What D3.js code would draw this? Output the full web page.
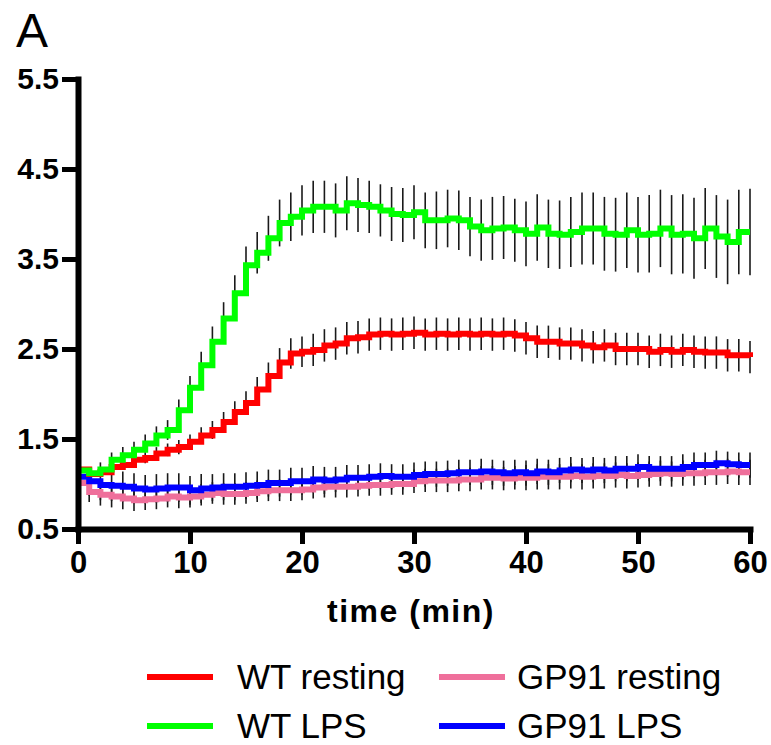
<!DOCTYPE html>
<html>
<head>
<meta charset="utf-8">
<script src="https://cdn.jsdelivr.net/npm/d3@7"></script>
<style>
  body { margin: 0; background: #fff; }
  svg { display: block; font-family: "Liberation Sans", Arial, sans-serif; }
</style>
</head>
<body>
<div id="chart"></div>
<script>
const W = 771, H = 745;

// time points (min)
const time = [0,1,2,3,4,5,6,7,8,9,10,11,12,13,14,15,16,17,18,19,20,21,22,23,24,25,26,27,28,29,30,
  31,32,33,34,35,36,37,38,39,40,41,42,43,44,45,46,47,48,49,50,51,52,53,54,55,56,57,58,59,60];

const wtResting = [1.16,1.11,1.13,1.19,1.21,1.27,1.29,1.34,1.38,1.41,1.47,1.54,1.60,1.69,1.80,1.90,
  2.05,2.20,2.35,2.45,2.47,2.49,2.54,2.56,2.62,2.63,2.66,2.67,2.66,2.67,2.68,2.66,2.67,2.66,2.67,2.66,
  2.67,2.66,2.67,2.65,2.62,2.58,2.58,2.56,2.56,2.54,2.52,2.54,2.50,2.50,2.50,2.47,2.49,2.47,2.49,2.47,
  2.46,2.46,2.43,2.43,2.41];
const wtRestingErr = [0.05,0.05,0.05,0.05,0.05,0.06,0.06,0.07,0.07,0.08,0.08,0.09,0.10,0.11,0.12,0.13,
  0.14,0.15,0.16,0.17,0.17,0.18,0.18,0.18,0.18,0.18,0.18,0.18,0.18,0.18,0.18,0.18,0.18,0.18,0.18,0.18,
  0.18,0.18,0.18,0.18,0.18,0.18,0.18,0.18,0.18,0.18,0.18,0.18,0.18,0.18,0.18,0.18,0.18,0.18,0.18,0.18,
  0.18,0.18,0.18,0.18,0.18];

const wtLPS = [1.15,1.12,1.16,1.27,1.32,1.38,1.45,1.54,1.60,1.82,2.07,2.32,2.58,2.84,3.12,3.43,
  3.57,3.73,3.90,3.97,4.04,4.08,4.08,4.04,4.12,4.10,4.08,4.04,4.00,3.99,4.02,3.93,3.93,3.95,3.93,3.86,
  3.82,3.84,3.85,3.82,3.78,3.85,3.78,3.77,3.80,3.84,3.84,3.78,3.77,3.82,3.77,3.78,3.84,3.77,3.78,3.73,
  3.84,3.75,3.69,3.80,3.80];
const wtLPSErr = [0.07,0.07,0.08,0.08,0.09,0.09,0.10,0.10,0.11,0.12,0.13,0.15,0.17,0.18,0.20,0.21,
  0.23,0.25,0.26,0.27,0.28,0.29,0.29,0.30,0.30,0.30,0.29,0.29,0.30,0.30,0.30,0.31,0.32,0.32,0.33,0.33,
  0.34,0.35,0.35,0.35,0.36,0.37,0.38,0.38,0.39,0.40,0.40,0.41,0.41,0.42,0.42,0.43,0.43,0.44,0.44,0.45,
  0.45,0.46,0.47,0.47,0.48];

const gp91Resting = [1.01,0.91,0.88,0.86,0.84,0.82,0.83,0.84,0.86,0.85,0.86,0.88,0.90,0.89,0.89,0.90,
  0.92,0.93,0.93,0.93,0.94,0.96,0.97,0.97,0.97,0.98,0.99,0.99,1.00,1.00,1.03,1.04,1.04,1.04,1.05,1.05,
  1.07,1.07,1.06,1.07,1.07,1.08,1.08,1.08,1.09,1.08,1.09,1.09,1.10,1.09,1.10,1.11,1.12,1.11,1.12,1.12,
  1.13,1.13,1.14,1.13,1.13];
const gp91RestingErr = [0.10,0.11,0.12,0.12,0.12,0.12,0.12,0.12,0.12,0.12,0.12,0.12,0.12,0.12,0.12,0.12,
  0.12,0.12,0.12,0.12,0.12,0.12,0.12,0.12,0.12,0.12,0.12,0.12,0.12,0.12,0.13,0.13,0.13,0.13,0.13,0.13,
  0.13,0.13,0.13,0.13,0.14,0.14,0.14,0.14,0.14,0.14,0.14,0.14,0.14,0.14,0.14,0.14,0.14,0.14,0.14,0.14,
  0.14,0.14,0.14,0.14,0.14];

const gp91LPS = [1.08,1.03,0.99,0.98,0.97,0.95,0.94,0.95,0.96,0.96,0.93,0.95,0.96,0.97,0.97,0.98,
  0.99,1.01,1.01,1.03,1.03,1.05,1.04,1.05,1.07,1.07,1.08,1.09,1.08,1.08,1.10,1.11,1.11,1.12,1.13,1.13,
  1.14,1.13,1.12,1.13,1.12,1.14,1.13,1.15,1.16,1.15,1.16,1.15,1.17,1.17,1.19,1.17,1.17,1.17,1.19,1.21,
  1.21,1.23,1.22,1.21,1.21];
const gp91LPSErr = [0.14,0.16,0.17,0.17,0.17,0.17,0.16,0.16,0.16,0.16,0.16,0.16,0.15,0.15,0.15,0.15,
  0.15,0.15,0.15,0.15,0.15,0.15,0.15,0.14,0.14,0.14,0.14,0.14,0.14,0.14,0.14,0.14,0.14,0.14,0.14,0.14,
  0.14,0.14,0.14,0.14,0.14,0.14,0.14,0.14,0.14,0.14,0.14,0.14,0.14,0.14,0.14,0.14,0.14,0.14,0.14,0.14,
  0.14,0.14,0.14,0.14,0.14];

const yTicks = [0.5, 1.5, 2.5, 3.5, 4.5, 5.5];
const xTicks = [0, 10, 20, 30, 40, 50, 60];

// draw order: back to front
const series = [
  { name: "GP91 resting", color: "#ef6f9b", values: gp91Resting, err: gp91RestingErr },
  { name: "GP91 LPS", color: "#0000ff", values: gp91LPS, err: gp91LPSErr },
  { name: "WT resting", color: "#ff0000", values: wtResting, err: wtRestingErr },
  { name: "WT LPS", color: "#00ff00", values: wtLPS, err: wtLPSErr }
];

const svg = d3.select("#chart").append("svg")
  .attr("width", W).attr("height", H);

const x = d3.scaleLinear().domain([0, 60]).range([78, 750]);
const y = d3.scaleLinear().domain([0.5, 5.5]).range([529, 79]);

// panel letter
svg.append("text")
  .attr("x", 16).attr("y", 47)
  .attr("font-size", 48)
  .text("A");

// error bars
const bars = svg.append("g");
series.forEach(s => {
  bars.selectAll(null)
    .data(time.map((t, i) => ({ t, v: s.values[i], e: s.err[i] })))
    .enter().append("line")
    .attr("x1", d => x(d.t)).attr("x2", d => x(d.t))
    .attr("y1", d => y(d.v - d.e)).attr("y2", d => y(d.v + d.e))
    .attr("stroke", "#1a1a1a")
    .attr("stroke-width", 1.6);
});

// lines
const line = d3.line()
  .x((d, i) => x(time[i]))
  .y(d => y(d))
  .curve(d3.curveStepAfter);

series.forEach(s => {
  svg.append("path")
    .datum(s.values)
    .attr("fill", "none")
    .attr("stroke", s.color)
    .attr("stroke-width", 6)
    .attr("d", line);
});

// axes
const yAxis = svg.append("g")
  .attr("transform", "translate(78,0)")
  .call(d3.axisLeft(y).tickValues(yTicks).tickFormat(d3.format(".1f"))
    .tickSize(16).tickSizeOuter(0).tickPadding(3));

const xAxis = svg.append("g")
  .attr("transform", "translate(0,529)")
  .call(d3.axisBottom(x).tickValues(xTicks)
    .tickSize(15).tickSizeOuter(0).tickPadding(7));

[yAxis, xAxis].forEach(a => {
  a.select(".domain").attr("stroke", "#000").attr("stroke-width", 6)
    .attr("stroke-linecap", "square");
  a.selectAll(".tick line").attr("stroke", "#000").attr("stroke-width", 5);
  a.selectAll(".tick text")
    .attr("fill", "#000")
    .attr("font-family", "'Liberation Sans', Arial, sans-serif")
    .attr("font-weight", "bold");
});
yAxis.selectAll(".tick text").attr("font-size", 30);
xAxis.selectAll(".tick text").attr("font-size", 31);

// x-axis title
svg.append("text")
  .attr("x", 411).attr("y", 622)
  .attr("text-anchor", "middle")
  .attr("font-size", 32)
  .attr("font-weight", "bold")
  .attr("letter-spacing", 1.5)
  .text("time (min)");

// legend
const legendItems = [
  { name: "WT resting", color: "#ff0000", col: 0, row: 0 },
  { name: "WT LPS", color: "#00ff00", col: 0, row: 1 },
  { name: "GP91 resting", color: "#ef6f9b", col: 1, row: 0 },
  { name: "GP91 LPS", color: "#0000ff", col: 1, row: 1 }
];
const legend = svg.append("g");
const lg = legend.selectAll("g").data(legendItems).enter().append("g")
  .attr("transform", d => `translate(${d.col === 0 ? 147 : 439},${d.row === 0 ? 677 : 726})`);
lg.append("line")
  .attr("x1", 0).attr("x2", 66)
  .attr("stroke", d => d.color).attr("stroke-width", 6);
lg.append("text")
  .attr("x", d => d.col === 0 ? 90 : 78)
  .attr("y", 12)
  .attr("font-size", 35)
  .text(d => d.name);
</script>
</body>
</html>
